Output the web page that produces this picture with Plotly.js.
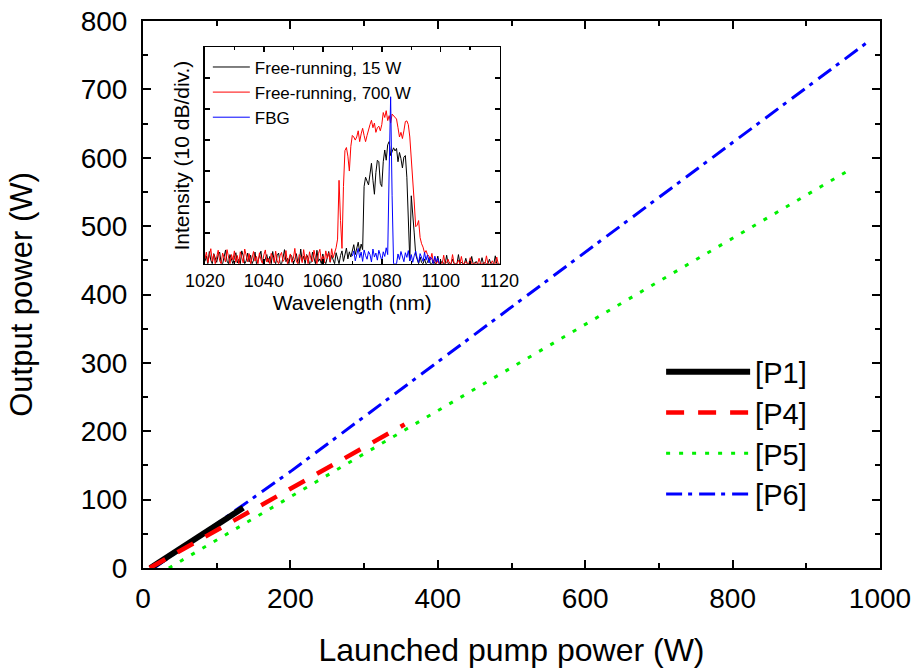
<!DOCTYPE html>
<html>
<head>
<meta charset="utf-8">
<script src="https://cdn.plot.ly/plotly-3.0.1.min.js"></script>
<style>html,body{margin:0;padding:0;background:#fff;}#chart{width:916px;height:670px;}</style>
</head>
<body>
<div id="chart"></div>
<script>
// ---- Main chart data (launched pump power vs output power) ----
var p1X = [10, 136];
var p1Y = [0, 88];
var p4X = [9, 355];
var p4Y = [0, 210];
var p5X = [35, 955];
var p5Y = [0, 580];
var p6X = [15, 200, 988];
var p6Y = [0, 141, 773];
var mainNames = ['[P1]', '[P4]', '[P5]', '[P6]'];

// ---- Inset spectra (dB above floor), sampled every 0.5 nm ----
var specStart = 1020;      // nm, first sample of free-running spectra
var fbgStart = 1070;       // nm, first sample of FBG spectrum
var specStep = 0.5;        // nm
var free15 = [
 0.8, 2.5, 0, 4.0, 1.2, 0, 3.3, 1.8, 0.5, 2.9,
 3.8, 0.4, 0, 2.2, 4.5, 0.9, 0, 3.0, 1.4, 0,
 2.0, 3.6, 0.3, 1.5, 0, 4.2, 2.6, 0, 1.0, 3.5,
 0.6, 2.8, 0, 1.2, 3.8, 0, 0.9, 2.2, 4.1, 0.3,
 0, 1.6, 3.0, 0.5, 2.4, 0, 4.0, 1.1, 0, 2.7,
 3.5, 0.2, 0, 2.0, 4.6, 0.7, 1.8, 0, 3.1, 2.3,
 0, 1.4, 3.3, 0.6, 0, 4.8, 1.0, 2.5, 0, 3.0,
 1.9, 0, 0.5, 3.8, 2.2, 0, 4.4, 0.8, 1.6, 0,
 3.2, 1.0, 0, 2.4, 4.0, 0.5, 2.8, 1.3, 0, 3.6,
 1.5, 0, 2.7, 4.2, 0.8, 3.0, 5.1, 1.6, 3.9, 2.2,
 4.8, 6.2, 3.0, 5.5, 7.0, 4.0, 6.4, 4.6, 25, 28,
 26.5, 25.5, 29, 32.5, 27, 22.5, 29.5, 33.5, 33, 26,
 25, 33, 36.8, 33.5, 38.5, 39.5, 35, 36, 37.5, 36.5,
 37.3, 33, 36, 34, 31, 34.5, 35, 28, 15, 1,
 22, 17, 10, 3, 1.5, 0, 2.2, 0.4, 0, 1.6,
 0, 0.5, 2.0, 0, 0, 1.2, 0, 0.3, 2.5, 0,
 0, 1.0, 0, 0, 2.8, 0, 0.4, 0, 1.5, 0,
 0, 0, 3.0, 0, 0.6, 0, 0, 1.8, 0, 0,
 0, 2.4, 0, 0, 0.8, 0, 0, 0, 2.0, 0,
 0.5, 0, 0, 1.5, 0, 0, 0, 2.6, 0, 0,
 0
];
var free700 = [
 1.5, 3.8, 0.4, 2.6, 4.9, 0.8, 3.1, 0, 2.2, 4.4,
 1.0, 0, 3.5, 2.0, 0.6, 4.6, 1.8, 0, 3.0, 1.2,
 4.2, 0.5, 2.7, 0, 3.9, 1.6, 0.3, 4.8, 2.1, 0.7,
 3.3, 0, 1.9, 4.0, 0.9, 2.4, 0, 3.6, 1.3, 0.2,
 2.9, 4.5, 0.6, 1.8, 0, 3.4, 2.2, 0.4, 4.1, 1.0,
 0, 2.6, 3.7, 0.8, 1.5, 4.3, 0, 2.0, 3.2, 0.5,
 1.7, 5.0, 0.9, 0, 3.0, 2.3, 0.4, 4.6, 1.2, 2.8,
 0, 3.9, 1.5, 0.7, 4.4, 2.1, 0, 3.3, 4.7, 1.0,
 2.5, 0.3, 4.2, 1.8, 3.6, 0.6, 4.9, 2.0, 3.4, 5.2,
 8, 27, 14, 5, 25, 36.6, 37.6, 34.8, 30, 38,
 41.5, 41, 40, 41, 43, 39.5, 42, 43.8, 41.5, 39.5,
 41.5, 43.5, 45, 46.4, 44, 45.5, 42.5, 44, 44.5, 43,
 45, 48.9, 47.3, 49.5, 46.3, 47.9, 45.5, 48.4, 47.9, 47.5,
 46.8, 44, 41, 42.5, 40.5, 43, 46, 46.2, 45, 41,
 35, 27, 20, 12, 12.5, 14, 8.5, 6.5, 5.4, 3.5,
 4.3, 3, 2.5, 1.2, 3.4, 0.5, 2.0, 0, 1.0, 0,
 0.6, 0, 2.8, 0, 0.4, 1.5, 0, 0, 3.0, 0.3,
 0, 0, 1.2, 0, 2.4, 0, 0, 0.8, 0, 0,
 2.0, 0, 0, 0.5, 0, 0, 1.8, 0, 0, 0.4,
 0, 2.6, 0, 0, 0, 1.0, 0, 0, 2.2, 0,
 0
];
var fbg = [
 2.5, 4.2, 1.0, 3.6, 5.0, 2.0, 3.8, 0.8, 4.5, 2.7,
 1.5, 4.0, 3.0, 0.6, 4.8, 2.2, 3.5, 1.2, 4.4, 2.8,
 0.9, 3.9, 2.4, 5.2, 3.0, 30, 54, 22, 0, 0,
 0, 3.2, 1.4, 4.0, 2.5, 0.7, 3.6, 2.1, 4.3, 1.0,
 3.0, 0.5, 2.6, 4.1, 1.8, 0.4, 3.3, 2.0, 0.8, 3.7,
 1.2, 2.9, 0.3, 2.2, 1.6, 0, 2.5, 0.6, 1.8, 0,
 0
];
var insetNames = ['Free-running, 15 W', 'Free-running, 700 W', 'FBG'];

var FONT = 'Liberation Sans, Arial, sans-serif';

var traces = [
  {x: p6X, y: p6Y, name: mainNames[3], mode: 'lines', legendrank: 4,
   line: {color: '#0000ff', width: 3, dash: '16px,6px,4px,7px'}},
  {x: p5X, y: p5Y, name: mainNames[2], mode: 'lines', legendrank: 3,
   line: {color: '#00f000', width: 3, dash: '4px,9px'}},
  {x: p1X, y: p1Y, name: mainNames[0], mode: 'lines', legendrank: 1,
   line: {color: '#000000', width: 6}},
  {x: p4X, y: p4Y, name: mainNames[1], mode: 'lines', legendrank: 2,
   line: {color: '#ff0000', width: 4.5, dash: '18px,14px'}},
  {y: free15, x0: specStart, dx: specStep, name: insetNames[0], mode: 'lines',
   xaxis: 'x2', yaxis: 'y2', legend: 'legend2', legendrank: 1,
   line: {color: '#000000', width: 1}},
  {y: free700, x0: specStart, dx: specStep, name: insetNames[1], mode: 'lines',
   xaxis: 'x2', yaxis: 'y2', legend: 'legend2', legendrank: 2,
   line: {color: '#ff0000', width: 1}},
  {y: fbg, x0: fbgStart, dx: specStep, name: insetNames[2], mode: 'lines',
   xaxis: 'x2', yaxis: 'y2', legend: 'legend2', legendrank: 3,
   line: {color: '#0000ff', width: 1}}
];

var mainAxis = {
  showline: true, linewidth: 2, linecolor: '#000', mirror: 'ticks',
  ticks: 'inside', ticklen: 8, tickwidth: 2, tickcolor: '#000',
  showgrid: false, zeroline: false,
  tickfont: {family: FONT, size: 28, color: '#000'}
};

var layout = {
  width: 916, height: 670,
  margin: {l: 143, r: 36, t: 21, b: 102},
  paper_bgcolor: '#fff', plot_bgcolor: '#fff',
  font: {family: FONT, color: '#000'},
  showlegend: true,
  xaxis: Object.assign({}, mainAxis, {
    range: [0, 1000], tick0: 0, dtick: 200, ticklabelstandoff: 4,
    minor: {dtick: 100, ticks: 'inside', ticklen: 5, tickwidth: 2, tickcolor: '#000', showgrid: false},
    title: {text: 'Launched pump power (W)', font: {family: FONT, size: 32, color: '#000'}, standoff: 26}
  }),
  yaxis: Object.assign({}, mainAxis, {
    range: [0, 800], tick0: 0, dtick: 100, ticklabelstandoff: 8,
    minor: {dtick: 50, ticks: 'inside', ticklen: 5, tickwidth: 2, tickcolor: '#000', showgrid: false},
    title: {text: 'Output power (W)', font: {family: FONT, size: 31, color: '#000'}, standoff: 39}
  }),
  xaxis2: {
    domain: [0.084, 0.484], anchor: 'y2', range: [1020, 1120], tick0: 1020, dtick: 20,
    showline: true, linewidth: 1.5, linecolor: '#000', mirror: 'ticks',
    ticks: 'inside', ticklen: 5, tickwidth: 1.5, tickcolor: '#000',
    minor: {dtick: 10, ticks: 'inside', ticklen: 3, tickwidth: 1.5, tickcolor: '#000', showgrid: false},
    showgrid: false, zeroline: false,
    tickfont: {family: FONT, size: 18, color: '#000'},
    title: {text: 'Wavelength (nm)', font: {family: FONT, size: 21, color: '#000'}, standoff: 0}
  },
  yaxis2: {
    domain: [0.556, 0.952], anchor: 'x2', range: [0, 70], tick0: 0, dtick: 10,
    showline: true, linewidth: 1.5, linecolor: '#000', mirror: 'ticks',
    ticks: 'inside', ticklen: 5, tickwidth: 1.5, tickcolor: '#000',
    showticklabels: false, showgrid: false, zeroline: false,
    title: {text: 'Intensity (10 dB/div.)', font: {family: FONT, size: 21, color: '#000'}, standoff: 8}
  },
  legend: {
    x: 0.703, y: 0.405, xanchor: 'left', yanchor: 'top',
    bgcolor: 'rgba(0,0,0,0)', borderwidth: 0, itemwidth: 84,
    font: {family: FONT, size: 29, color: '#000'}, tracegroupgap: 0
  },
  legend2: {
    x: 0.088, y: 0.948, xanchor: 'left', yanchor: 'top',
    bgcolor: 'rgba(0,0,0,0)', borderwidth: 0, itemwidth: 37,
    font: {family: FONT, size: 17, color: '#000'}, tracegroupgap: 0
  }
};

Plotly.newPlot('chart', traces, layout, {displayModeBar: false, staticPlot: true});
</script>
</body>
</html>
